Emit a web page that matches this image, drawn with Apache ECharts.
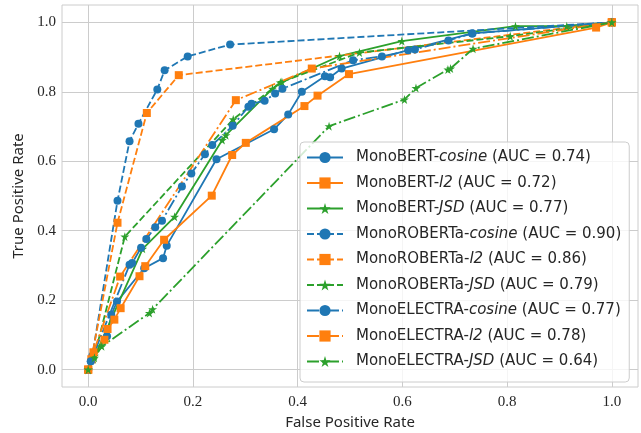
<!DOCTYPE html>
<html lang="en">
<head>
    <meta charset="UTF-8">
    <title>ROC curves</title>
    <script src="https://cdn.jsdelivr.net/npm/echarts@6.0.0/dist/echarts.min.js"></script>
    <style>
        body { margin: 0; padding: 0; background: #fff; }
        #chart { width: 641px; height: 433px; }
    </style>
</head>
<body>
<div id="chart"></div>
<script>
    // tick labels
    const ticks = [0, 0.2, 0.4, 0.6, 0.8, 1.0];

    // MonoBERT
    const bertCosineFpr = [0, 0.005, 0.036, 0.044, 0.055, 0.107, 0.143, 0.150, 0.245, 0.355, 0.382, 0.408, 0.452, 0.462, 0.484, 0.611, 0.733, 1];
    const bertCosineTpr = [0, 0.024, 0.096, 0.158, 0.196, 0.292, 0.321, 0.357, 0.606, 0.692, 0.735, 0.800, 0.845, 0.842, 0.867, 0.920, 0.968, 1];
    const bertL2Fpr = [0, 0.031, 0.037, 0.050, 0.062, 0.098, 0.109, 0.145, 0.236, 0.275, 0.301, 0.413, 0.438, 0.498, 0.970, 1];
    const bertL2Tpr = [0, 0.086, 0.117, 0.144, 0.177, 0.269, 0.298, 0.374, 0.501, 0.618, 0.653, 0.759, 0.789, 0.851, 0.985, 1];
    const bertJsdFpr = [0, 0.010, 0.104, 0.165, 0.256, 0.263, 0.352, 0.370, 0.480, 0.599, 0.816, 0.914, 1];
    const bertJsdTpr = [0, 0.030, 0.348, 0.440, 0.661, 0.675, 0.809, 0.828, 0.903, 0.946, 0.989, 0.989, 1];

    // MonoROBERTa
    const robertaCosineFpr = [0, 0.008, 0.056, 0.079, 0.096, 0.132, 0.146, 0.190, 0.271, 1];
    const robertaCosineTpr = [0, 0.040, 0.486, 0.658, 0.708, 0.807, 0.862, 0.902, 0.936, 1];
    const robertaL2Fpr = [0, 0.006, 0.056, 0.112, 0.173, 1];
    const robertaL2Tpr = [0, 0.030, 0.423, 0.739, 0.848, 1];
    const robertaJsdFpr = [0, 0.012, 0.070, 0.277, 0.367, 0.518, 0.806, 1];
    const robertaJsdTpr = [0, 0.040, 0.383, 0.721, 0.827, 0.913, 0.960, 1];

    // MonoELECTRA
    const electraCosineFpr = [0, 0.005, 0.079, 0.084, 0.101, 0.111, 0.128, 0.141, 0.179, 0.197, 0.223, 0.237, 0.276, 0.306, 0.312, 0.337, 0.357, 0.371, 0.506, 0.561, 0.624, 0.688, 0.734, 1];
    const electraCosineTpr = [0, 0.024, 0.302, 0.307, 0.351, 0.376, 0.410, 0.429, 0.527, 0.565, 0.620, 0.647, 0.702, 0.757, 0.766, 0.774, 0.795, 0.809, 0.891, 0.902, 0.922, 0.948, 0.968, 1];
    const electraL2Fpr = [0, 0.010, 0.061, 0.282, 0.427, 1];
    const electraL2Tpr = [0, 0.050, 0.268, 0.776, 0.867, 1];
    const electraJsdFpr = [0, 0.012, 0.026, 0.117, 0.123, 0.460, 0.604, 0.626, 0.687, 0.692, 0.735, 1];
    const electraJsdTpr = [0, 0.034, 0.067, 0.163, 0.174, 0.701, 0.778, 0.811, 0.864, 0.867, 0.924, 1];

    const models = ['MonoBERT', 'MonoROBERTa', 'MonoELECTRA'];
    const metrics = ['cosine', 'l2', 'JSD'];
    const aucs = [[0.74, 0.72, 0.77], [0.90, 0.86, 0.79], [0.77, 0.78, 0.64]];
    const fprs = [
        [bertCosineFpr, bertL2Fpr, bertJsdFpr],
        [robertaCosineFpr, robertaL2Fpr, robertaJsdFpr],
        [electraCosineFpr, electraL2Fpr, electraJsdFpr]
    ];
    const tprs = [
        [bertCosineTpr, bertL2Tpr, bertJsdTpr],
        [robertaCosineTpr, robertaL2Tpr, robertaJsdTpr],
        [electraCosineTpr, electraL2Tpr, electraJsdTpr]
    ];

    const colors = ['#1f77b4', '#ff7f0e', '#2ca02c'];
    const star = 'path://M50,0 L61,35 L98,35 L68,57 L79,91 L50,70 L21,91 L32,57 L2,35 L39,35 Z';
    const symbols = ['circle', 'rect', star];
    const symbolSizes = [8, 8, 9];
    const dashes = ['solid', [7, 3], [12, 3, 2, 3]];

    const series = [];
    const names = [];
    models.forEach((m, i) => {
        metrics.forEach((k, j) => {
            const name = m + '-' + k;
            names.push(name);
            series.push({
                name: name,
                type: 'line',
                data: fprs[i][j].map((x, n) => [x, tprs[i][j][n]]),
                symbol: symbols[j],
                symbolSize: symbolSizes[j],
                showAllSymbol: true,
                itemStyle: { color: colors[j] },
                lineStyle: { color: colors[j], width: 1.8, type: dashes[i] },
                emphasis: { disabled: true }
            });
        });
    });

    const aucOf = {};
    models.forEach((m, i) => metrics.forEach((k, j) => { aucOf[m + '-' + k] = aucs[i][j]; }));

    const chart = echarts.init(document.getElementById('chart'));
    const tickFont = { fontFamily: 'Liberation Serif', fontSize: 15, color: '#262626' };
    const legendFont = { fontFamily: 'DejaVu Sans', fontSize: 15, color: '#262626' };

    chart.setOption({
        animation: false,
        color: colors,
        grid: {
            left: 62, right: 3, top: 5, bottom: 46,
            containLabel: false, outerBoundsMode: 'none',
            show: true, borderColor: '#cccccc', borderWidth: 1
        },
        xAxis: {
            type: 'value', min: -0.05, max: 1.05,
            name: 'False Positive Rate', nameLocation: 'middle', nameGap: 27,
            nameTextStyle: { fontFamily: 'Noto Sans', fontSize: 15, color: '#262626' },
            axisLine: { show: false },
            axisTick: { show: false, customValues: ticks },
            axisLabel: Object.assign({ customValues: ticks, margin: 8, formatter: v => v.toFixed(1) }, tickFont),
            splitLine: { lineStyle: { color: '#cccccc', width: 1 } }
        },
        yAxis: {
            type: 'value', min: -0.05, max: 1.05,
            name: 'True Positive Rate', nameLocation: 'middle', nameGap: 34,
            nameTextStyle: { fontFamily: 'Noto Sans', fontSize: 15, color: '#262626' },
            axisLine: { show: false },
            axisTick: { show: false, customValues: ticks },
            axisLabel: Object.assign({ customValues: ticks, margin: 6, formatter: v => v.toFixed(1) }, tickFont),
            splitLine: { lineStyle: { color: '#cccccc', width: 1 } }
        },
        legend: {
            data: names,
            orient: 'vertical',
            left: 300, top: 142,
            padding: [8, 8, 13, 6],
            itemWidth: 36, itemHeight: 14, itemGap: 10.5,
            backgroundColor: 'rgba(255,255,255,0.8)',
            borderColor: '#cccccc', borderWidth: 1, borderRadius: 4,
            formatter: name => {
                const k = name.lastIndexOf('-');
                return '{a|' + name.slice(0, k + 1) + '}{i|' + name.slice(k + 1) + '}{n| (AUC = ' + aucOf[name].toFixed(2) + ')}';
            },
            textStyle: Object.assign({
                rich: {
                    a: Object.assign({ padding: [0, 0, 0, 8] }, legendFont),
                    n: legendFont,
                    i: Object.assign({ fontStyle: 'italic' }, legendFont)
                }
            }, legendFont)
        },
        series: series
    });
</script>
</body>
</html>
